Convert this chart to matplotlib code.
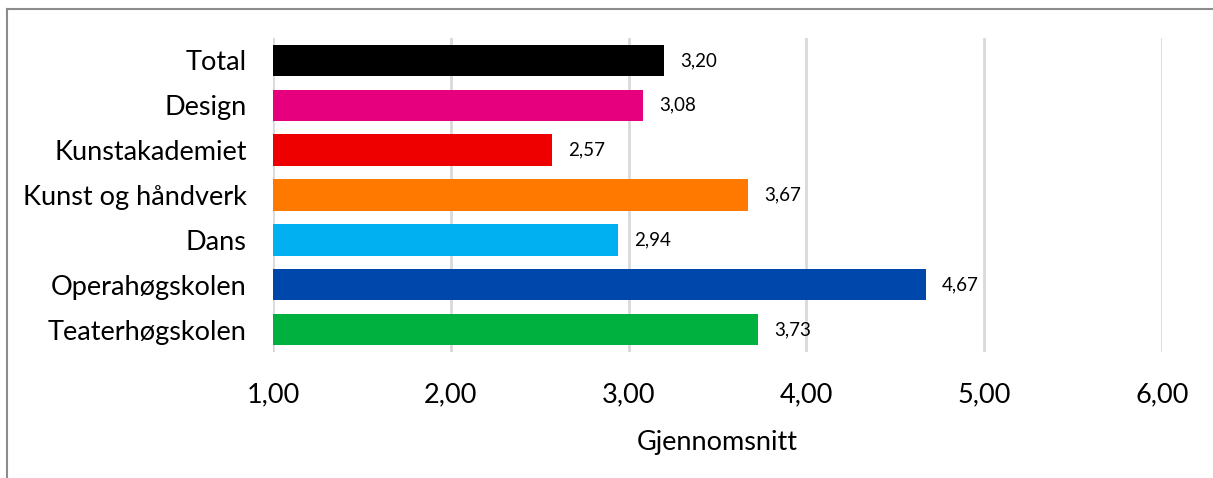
import matplotlib.pyplot as plt
from matplotlib.lines import Line2D

# data
categories = ["Total", "Design", "Kunstakademiet", "Kunst og håndverk",
              "Dans", "Operahøgskolen", "Teaterhøgskolen"]
values = [3.20, 3.08, 2.57, 3.67, 2.94, 4.67, 3.73]
colors = ["#000000", "#E6007E", "#EE0000", "#FF7800",
          "#00B0F0", "#0047AB", "#00B140"]
x_ticks = [1, 2, 3, 4, 5, 6]

plt.rcParams['font.family'] = ['Lato', 'DejaVu Sans']

fig = plt.figure(figsize=(12.13, 4.78), dpi=100)
ax = fig.add_axes([0.2251, 0.2636, 0.7329, 0.6569])

pos = list(range(len(categories)))
ax.barh(pos, [v - 1 for v in values], left=1, height=0.7, color=colors, zorder=3)
for p, v in zip(pos, values):
    ax.text(v + 0.09, p, "{:.2f}".format(v).replace(".", ","), va="center",
            ha="left", fontsize=13.5, color="#000000", zorder=4)

ax.set_xlim(1, 6)
ax.set_ylim(len(categories) - 0.5, -0.5)
ax.set_xticks(x_ticks)
ax.set_xticklabels(["{:.2f}".format(t).replace(".", ",") for t in x_ticks], fontsize=19.5)
ax.set_yticks(pos)
ax.set_yticklabels(categories, fontsize=19.5)
ax.tick_params(axis="both", length=0)
ax.tick_params(axis="x", pad=22)
ax.tick_params(axis="y", pad=19)
ax.grid(axis="x", color="#D9D9D9", linewidth=2, zorder=0)
for s in ax.spines.values():
    s.set_visible(False)
ax.set_xlabel("Gjennomsnitt", fontsize=19.5, labelpad=16)

# outer frame (top and left visible)
fig.add_artist(Line2D([7 / 1213, 7 / 1213], [0, 1 - 9 / 478], transform=fig.transFigure,
                      color="#8C8C8C", linewidth=1.5))
fig.add_artist(Line2D([7 / 1213, 1], [1 - 9 / 478, 1 - 9 / 478], transform=fig.transFigure,
                      color="#8C8C8C", linewidth=1.5))

fig.savefig("out.png", dpi=100)
